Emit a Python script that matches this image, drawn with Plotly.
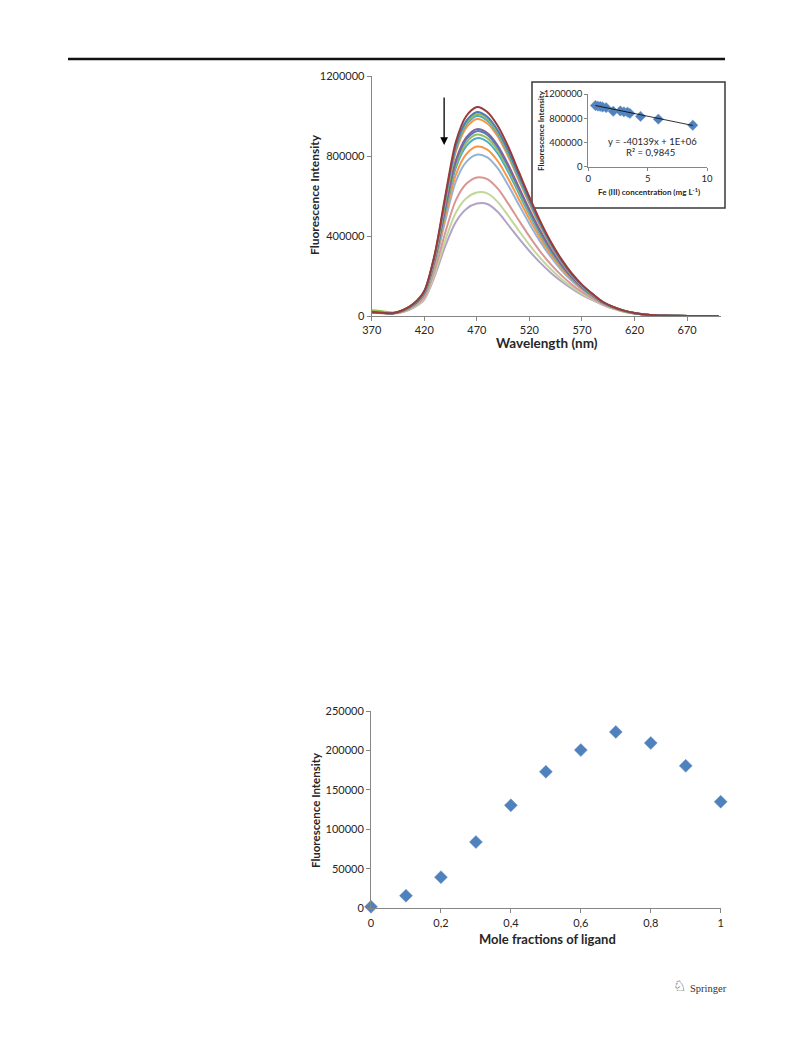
import plotly.graph_objects as go

# ---------------- data: emission spectra (top chart) ----------------
wavelengths = [370, 380, 390, 400, 410, 420, 430, 440, 450, 460, 470, 480, 490, 500, 510, 520,
               530, 540, 550, 560, 570, 580, 590, 600, 610, 620, 630, 640, 650, 660, 680, 700]

spec_01 = [20000, 16000, 14000, 30000, 62000, 125000, 310000, 600000, 870000, 1000000, 1045000, 1020000, 950000, 845000, 720000, 595000,
           478000, 375000, 288000, 215000, 157000, 111000, 70000, 45000, 27000, 15000, 8000, 4000, 2000, 1000, 200, 0]
spec_02 = [19800, 15900, 13900, 29500, 61000, 122800, 304300, 587000, 849200, 975800, 1019900, 996100, 927600, 824700, 702700, 581000,
           467100, 366800, 282100, 211000, 154300, 109300, 69200, 44500, 26700, 14800, 7900, 4000, 2000, 1000, 200, 0]
spec_03 = [29000, 24000, 17000, 29300, 60500, 121900, 302000, 581800, 840800, 966100, 1009700, 986400, 918600, 816500, 695800, 575300,
           462700, 363500, 279800, 209400, 153300, 108700, 68900, 44300, 26600, 14800, 7900, 3900, 2000, 1000, 200, 0]
spec_04 = [19700, 15800, 13800, 29100, 60100, 121000, 299700, 576500, 832400, 956300, 999600, 976800, 909600, 808300, 688800, 569600,
           458300, 360200, 277400, 207800, 152200, 108000, 68600, 44200, 26400, 14700, 7900, 3900, 2000, 1000, 200, 0]
spec_05 = [19600, 15800, 13800, 28800, 59500, 119600, 296300, 568800, 820000, 941900, 984600, 962500, 896300, 796300, 678500, 561300,
           451800, 355400, 273900, 205400, 150600, 107000, 68100, 43900, 26300, 14600, 7800, 3900, 2000, 1000, 200, 0]
spec_06 = [19300, 15500, 13500, 27700, 57400, 115200, 284800, 542800, 778400, 893500, 934400, 914700, 851500, 755700, 644000, 533200,
           429900, 339000, 262100, 197400, 145300, 103700, 66600, 42900, 25600, 14300, 7700, 3800, 2000, 1000, 200, 0]
spec_07 = [19300, 15500, 13500, 27500, 57000, 114300, 282500, 537500, 770000, 883800, 924300, 905000, 842500, 747500, 637000, 527500,
           425500, 335800, 259800, 195800, 144300, 103000, 66300, 42800, 25500, 14300, 7600, 3800, 2000, 1000, 200, 0]
spec_08 = [19100, 15400, 13400, 27200, 56300, 112700, 278700, 528800, 756000, 867500, 907300, 888900, 827500, 733900, 625400, 518100,
           418200, 330300, 255800, 193100, 142500, 101900, 65700, 42400, 25300, 14100, 7600, 3800, 2000, 1000, 200, 0]
spec_09 = [19000, 15400, 13400, 26800, 55500, 111100, 274500, 519300, 740800, 849800, 889000, 871400, 811100, 719000, 612800, 507800,
           410200, 324300, 251500, 190100, 140500, 100700, 65200, 42100, 25100, 14000, 7500, 3700, 2000, 1000, 200, 0]
spec_10 = [18800, 15200, 13200, 25900, 53800, 107400, 264900, 497500, 706000, 809400, 847000, 831400, 773700, 685100, 583900, 484300,
           391900, 310600, 241700, 183400, 136100, 97900, 63900, 41300, 24500, 13800, 7400, 3700, 2000, 1000, 200, 0]
spec_11 = [18500, 15000, 13000, 25100, 52100, 103800, 255700, 476500, 672400, 770300, 806400, 792800, 737600, 652300, 556000, 461600,
           374300, 297400, 232200, 177000, 131800, 95200, 62600, 40600, 24000, 13500, 7300, 3600, 2000, 1000, 200, 0]
spec_12 = [17800, 14500, 12500, 22700, 47400, 93700, 229800, 417800, 578400, 661000, 692900, 684700, 636500, 560700, 478000, 398200,
           324900, 260500, 205600, 158900, 119800, 87700, 59100, 38400, 22600, 12800, 6900, 3400, 2000, 1000, 200, 0]
spec_13 = [17300, 14200, 12200, 21200, 44300, 86900, 212700, 378800, 516000, 588500, 617500, 612900, 569500, 499900, 426200, 356100,
           292200, 236100, 188000, 146900, 111900, 82700, 56700, 37000, 21700, 12300, 6700, 3300, 2000, 1000, 200, 0]
spec_14 = [17000, 14000, 12000, 20000, 42000, 82000, 200000, 350000, 470000, 535000, 562000, 560000, 520000, 455000, 388000, 325000,
           268000, 218000, 175000, 138000, 106000, 79000, 55000, 36000, 21000, 12000, 6500, 3200, 2000, 1000, 200, 0]

main_x_ticks = [370, 420, 470, 520, 570, 620, 670]
main_y_ticks = [0, 400000, 800000, 1200000]
main_y_ticktext = ["0", "400000", "800000", "1200000"]

# ---------------- data: calibration inset ----------------
fe_conc = [0.6, 0.8, 1.0, 1.2, 1.5, 2.1, 2.7, 3.0, 3.3, 3.5, 4.4, 5.9, 8.8]
fe_intensity = [1010000, 1000000, 995000, 985000, 975000, 915000, 920000, 905000, 900000, 880000, 830000, 785000, 685000]
trend_slope = -40139
trend_intercept = 1034000
trend_x = [0.6, 8.8]
inset_x_ticks = [0, 5, 10]
inset_y_ticks = [0, 400000, 800000, 1200000]
inset_y_ticktext = ["0", "400000", "800000", "1200000"]

# ---------------- data: Job's plot (bottom chart) ----------------
mole_fraction = [0, 0.1, 0.2, 0.3, 0.4, 0.5, 0.6, 0.7, 0.8, 0.9, 1.0]
job_intensity = [2000, 16000, 39500, 84000, 130500, 173000, 200500, 223500, 209500, 180500, 135000]
job_x_ticks = [0, 0.2, 0.4, 0.6, 0.8, 1.0]
job_x_ticktext = ["0", "0,2", "0,4", "0,6", "0,8", "1"]
job_y_ticks = [0, 50000, 100000, 150000, 200000, 250000]
job_y_ticktext = ["0", "50000", "100000", "150000", "200000", "250000"]

# ---------------- styling ----------------
W, H = 793, 1053
FONT = "Lato"
AX = "#868686"
TXT = "#262626"

def px(x):
    return x / W

def py(y):
    return 1 - y / H

spectra = [spec_01, spec_02, spec_03, spec_04, spec_05, spec_06, spec_07,
           spec_08, spec_09, spec_10, spec_11, spec_12, spec_13, spec_14]
colors = ["#9B3B38", "#4A7EBB", "#9BBB59", "#4BACC6", "#F79646", "#8064A2", "#4F81BD",
          "#9BBB59", "#4BACC6", "#F79646", "#95B3D7", "#D99694", "#C3D69B", "#B3A2C7"]

fig = go.Figure()

for s, c in reversed(list(zip(spectra, colors))):
    fig.add_trace(go.Scatter(x=wavelengths, y=s, mode="lines",
                             line=dict(color=c, width=2, shape="spline", smoothing=0.8),
                             xaxis="x", yaxis="y", showlegend=False, hoverinfo="skip"))

# inset
fig.add_trace(go.Scatter(x=fe_conc, y=fe_intensity, mode="markers",
                         marker=dict(symbol="diamond", size=8, color="#4F81BD",
                                     line=dict(color="#6A95C8", width=0.5)),
                         xaxis="x2", yaxis="y2", showlegend=False, cliponaxis=False))
fig.add_trace(go.Scatter(x=trend_x, y=[trend_slope * v + trend_intercept for v in trend_x], mode="lines",
                         line=dict(color="#000000", width=0.8),
                         xaxis="x2", yaxis="y2", showlegend=False))

# bottom chart
fig.add_trace(go.Scatter(x=mole_fraction, y=job_intensity, mode="markers",
                         marker=dict(symbol="diamond", size=10, color="#4F81BD",
                                     line=dict(color="#6A95C8", width=0.5)),
                         xaxis="x3", yaxis="y3", showlegend=False, cliponaxis=False))

axis_common = dict(showgrid=False, zeroline=False, showline=True, linecolor=AX, linewidth=1,
                   ticks="outside", tickcolor=AX, ticklen=4, tickwidth=1, automargin=False,
                   tickfont=dict(family=FONT, size=11, color=TXT))
inset_axis = {**axis_common, "tickfont": dict(family=FONT, size=9.5, color=TXT), "ticklen": 3}

fig.update_layout(
    width=W, height=H, autosize=False,
    margin=dict(l=0, r=0, t=0, b=0, pad=0),
    paper_bgcolor="white", plot_bgcolor="rgba(0,0,0,0)",
    xaxis=dict(domain=[px(371.7), px(720.7)], range=[370, 702], anchor="y",
               tickmode="array", tickvals=main_x_ticks, **axis_common),
    yaxis=dict(domain=[py(316), py(76)], range=[0, 1200000], anchor="x",
               tickmode="array", tickvals=main_y_ticks, ticktext=main_y_ticktext, **axis_common),
    xaxis2=dict(domain=[px(588.3), px(707)], range=[0, 10], anchor="y2",
                tickmode="array", tickvals=inset_x_ticks, **inset_axis),
    yaxis2=dict(domain=[py(166.7), py(94)], range=[0, 1200000], anchor="x2",
                tickmode="array", tickvals=inset_y_ticks, ticktext=inset_y_ticktext, **inset_axis),
    xaxis3=dict(domain=[px(371), px(720.7)], range=[0, 1], anchor="y3",
                tickmode="array", tickvals=job_x_ticks, ticktext=job_x_ticktext, **axis_common),
    yaxis3=dict(domain=[py(908.3), py(711)], range=[0, 250000], anchor="x3",
                tickmode="array", tickvals=job_y_ticks, ticktext=job_y_ticktext, **axis_common),
)

shapes = [
    dict(type="line", xref="paper", yref="paper", x0=px(68), x1=px(725), y0=py(59), y1=py(59),
         line=dict(color="#111111", width=2.5)),
    dict(type="rect", xref="paper", yref="paper", x0=px(532), x1=px(725), y0=py(208), y1=py(82),
         line=dict(color="#3a3a3a", width=1.5), fillcolor="white", layer="below"),
]
fig.update_layout(shapes=shapes)

ann = []
def label(text, x, y, size, angle=0, bold=True, family=FONT, color=TXT, xanchor="center"):
    ann.append(dict(text=("<b>%s</b>" % text) if bold else text, x=px(x), y=py(y),
                    xref="paper", yref="paper", showarrow=False, textangle=angle,
                    xanchor=xanchor, yanchor="middle",
                    font=dict(family=family, size=size, color=color)))

label("Fluorescence Intensity", 315, 195, 12, angle=-90)
label("Wavelength (nm)", 547, 343, 13.5)
label("Fluorescence Intensity", 541, 131, 8, angle=-90)
label("Fe (III) concentration (mg L<sup>-1</sup>)", 649, 192, 8)
label("y = -40139x + 1E+06", 652, 141.5, 9.5, bold=False)
label("R² = 0,9845", 650, 152, 9.5, bold=False)
label("Fluorescence Intensity", 315, 810, 11.5, angle=-90)
label("Mole fractions of ligand", 547, 939, 13)
label("♘", 679, 986, 15, bold=False, family="DejaVu Sans", color="#333333")
label("Springer", 688, 988, 10.5, bold=False, family="Liberation Serif", color="#333333", xanchor="left")

ann.append(dict(x=438.9, y=855000, ax=438.9, ay=1100000, xref="x", yref="y", axref="x", ayref="y",
                text="", showarrow=True, arrowhead=2, arrowsize=1.2, arrowwidth=1.3, arrowcolor="#000000"))

fig.update_layout(annotations=ann)

fig.write_html("out.html", config={"displayModeBar": False},
               post_script="document.body.style.margin='0';")
